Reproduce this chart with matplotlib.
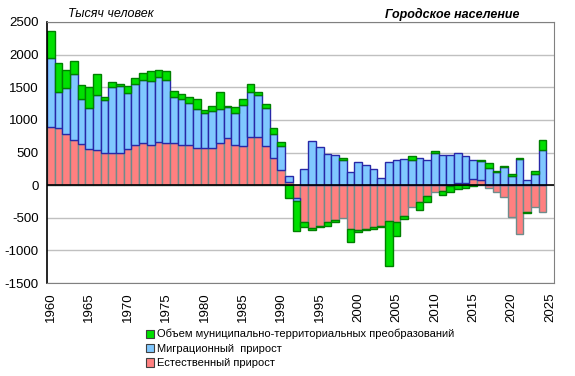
import matplotlib
matplotlib.use('Agg')
import matplotlib.pyplot as plt
import numpy as np
from matplotlib.patches import Rectangle

plt.rcParams['font.family'] = ['Liberation Sans', 'DejaVu Sans']
plt.rcParams['axes.unicode_minus'] = False

years = list(range(1960, 2025))

natural = [887, 871, 778, 696, 634, 557, 541, 500, 485, 500,
           546, 608, 639, 608, 655, 639, 639, 608, 608, 562,
           562, 562, 639, 722, 608, 593, 737, 737, 593, 423,
           237, 51, -195, -564, -651, -626, -564, -534, -503, -665,
           -687, -672, -641, -626, -549, -564, -472, -335, -252, -165,
           -108, -97, -15, 30, 25, 87, 72, -46, -108, -185,
           -492, -749, -410, -333, -410]

migration = [1062, 552, 707, 1005, 686, 630, 841, 799, 1020, 1016,
             866, 939, 974, 990, 1000, 974, 712, 712, 650, 598,
             536, 567, 526, 474, 495, 634, 691, 645, 587, 355,
             356, 82, -41, 251, 682, 590, 477, 467, 390, 205,
             359, 313, 251, 113, 359, 390, 405, 390, 416, 385,
             487, 462, 462, 457, 421, 298, 302, 256, 195, 277,
             133, 400, 77, 164, 539]

transform = [407, 448, 283, 206, 216, 310, 324, 52, 78, 36,
             109, 97, 109, 155, 113, 140, 92, 77, 93, 165,
             52, 82, 263, 15, 93, 93, 124, 46, 62, 93,
             62, -195, -467, -77, -36, -15, -62, -31, 31, -200,
             -31, -15, -31, -15, -693, -215, -46, 62, -125, -98,
             36, -58, -85, -60, -45, -18, 10, 77, 26, 20,
             45, 20, -20, 51, 154]

labels = ['Объем муниципально-территориальных преобразований',
          'Миграционный  прирост',
          'Естественный прирост']

series = [
    (natural, '#FF8080', '#6E8C8C'),
    (migration, '#80C8FF', '#2828A8'),
    (transform, '#00E000', '#008000'),
]

fig = plt.figure(figsize=(5.75, 3.76), dpi=100)
ax = fig.add_axes([47/575, 1 - 283/376, (554 - 47)/575, (283 - 22)/376])

# stacked bars: positives go up, negatives go down, each from its own base
x = np.array(years)
pos_base = np.zeros(len(years))
neg_base = np.zeros(len(years))
for values, face, edge in series:
    v = np.array(values, dtype=float)
    bottom = np.where(v >= 0, pos_base, neg_base)
    ax.bar(x, v, width=1.0, bottom=bottom, color=face, edgecolor=edge,
           linewidth=1.0, zorder=2)
    pos_base = pos_base + np.where(v > 0, v, 0)
    neg_base = neg_base + np.where(v < 0, v, 0)

ax.axhline(0, color='black', lw=1.2, zorder=3)

ax.set_xlim(1959.5, 2025.5)
ax.set_ylim(-1500, 2500)
ax.set_yticks(np.arange(-1500, 2501, 500))
ax.set_xticks(range(1960, 2026, 5))
ax.set_xticklabels([str(y) for y in range(1960, 2026, 5)], rotation=90)
ax.tick_params(axis='x', length=0, pad=7, labelsize=9.5)
ax.tick_params(axis='y', length=0, pad=6, labelsize=9.5)
ax.yaxis.grid(True, color='#C0C0C0', lw=1.0, zorder=0)
ax.set_axisbelow(True)

for side in ['top', 'right', 'bottom']:
    ax.spines[side].set_color('#808080')
ax.spines['left'].set_color('black')
ax.spines['left'].set_linewidth(1.2)

fig.text(68/575, 1 - 14/376, 'Тысяч человек', style='italic',
         fontsize=9, va='center', ha='left')
fig.text(452/575, 1 - 14/376, 'Городское население', style='italic',
         fontweight='bold', fontsize=9, va='center', ha='center')

handles = [Rectangle((0, 0), 1, 1, facecolor=series[2][1], edgecolor='#404040', lw=0.8),
           Rectangle((0, 0), 1, 1, facecolor=series[1][1], edgecolor='#404040', lw=0.8),
           Rectangle((0, 0), 1, 1, facecolor=series[0][1], edgecolor='#404040', lw=0.8)]
fig.legend(handles, labels, loc='upper left', bbox_to_anchor=(146/575, 1 - 329/376),
           frameon=False, fontsize=8, handlelength=0.75, handleheight=0.75,
           handletextpad=0.2, labelspacing=0.4, borderaxespad=0, borderpad=0)

plt.savefig('out.png', dpi=100)
